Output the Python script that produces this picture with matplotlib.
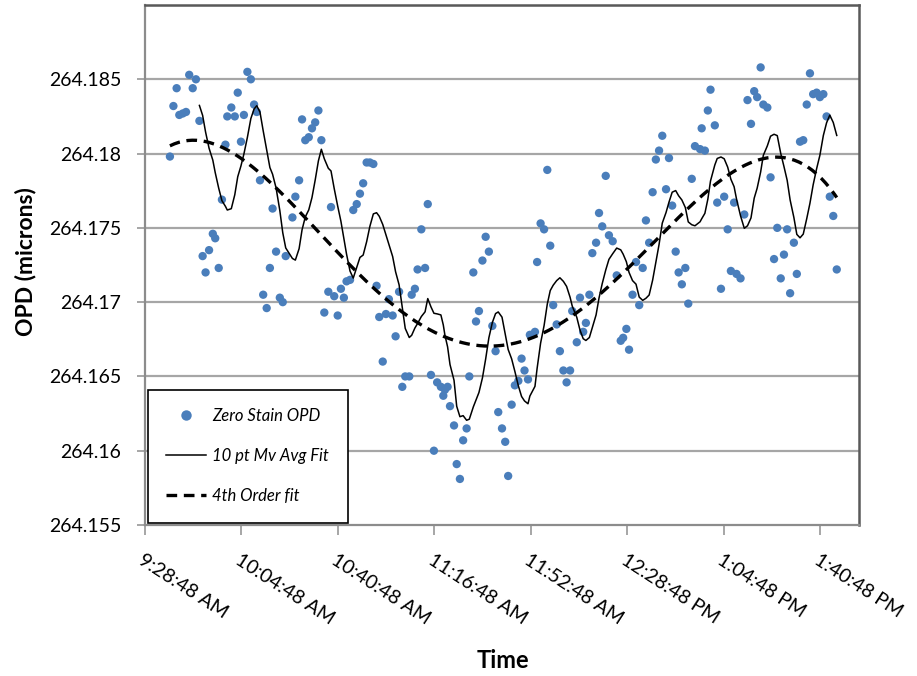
import numpy as np
import pandas as pd
import matplotlib
matplotlib.use("Agg")
import matplotlib.pyplot as plt
from matplotlib.lines import Line2D

plt.rcParams['font.family'] = ['Lato', 'DejaVu Sans']

# Sample times, in minutes after the 9:28:48 AM start
minutes = [
    9.3, 10.6, 11.8, 12.8, 14.1, 15.3, 16.5, 17.8, 19.0, 20.3,
    21.5, 22.6, 23.9, 25.3, 26.2, 27.5, 28.7, 30.0, 30.7, 32.2,
    33.5, 34.6, 35.8, 36.9, 38.2, 39.5, 40.7, 41.7, 42.9, 44.1,
    45.4, 46.6, 47.6, 48.9, 50.3, 51.4, 52.5, 55.0, 56.1, 57.5,
    58.6, 59.8, 61.1, 62.3, 63.5, 64.7, 65.8, 66.9, 68.4, 69.4,
    70.6, 71.9, 73.1, 74.2, 75.2, 76.5, 77.7, 79.0, 80.2, 81.4,
    82.7, 83.9, 85.2, 86.4, 87.4, 88.7, 89.9, 91.0, 92.4, 93.5,
    94.8, 96.0, 97.1, 98.6, 99.5, 100.7, 101.7, 103.1, 104.5, 105.5,
    106.7, 107.8, 109.0, 110.4, 111.3, 111.9, 112.9, 113.8, 115.3, 116.3,
    117.5, 118.7, 120.0, 121.0, 122.5, 123.5, 124.6, 125.9, 127.1, 128.3,
    129.6, 130.8, 131.8, 133.2, 134.4, 135.5, 136.8, 138.0, 139.3, 140.5,
    141.6, 142.9, 143.6, 145.5, 146.3, 147.6, 148.9, 150.1, 151.2, 152.3,
    153.6, 154.8, 156.1, 157.3, 158.6, 159.4, 161.1, 162.3, 163.5, 164.5,
    165.8, 166.9, 168.3, 169.4, 170.6, 171.9, 173.1, 174.5, 176.0, 177.5,
    178.4, 179.6, 180.6, 181.9, 183.2, 184.4, 185.7, 186.9, 188.1, 189.4,
    190.6, 191.8, 193.0, 194.4, 195.5, 196.7, 198.0, 199.1, 200.3, 201.6,
    202.7, 204.0, 205.2, 207.1, 207.7, 208.9, 210.0, 211.0, 212.6, 213.5,
    214.9, 216.1, 217.4, 218.6, 219.8, 220.7, 222.2, 223.6, 224.8, 226.1,
    227.3, 228.4, 229.7, 230.7, 232.2, 233.4, 234.7, 235.9, 237.2, 238.4,
    239.6, 240.7, 242.1, 243.2, 244.4, 245.6, 246.9, 248.1, 249.3, 250.6,
    251.8, 253.1, 254.3, 255.5, 256.8, 258.1,
]

# Zero-strain optical path difference, microns
opd = [
    264.1798, 264.1832, 264.1844, 264.1826, 264.1827, 264.1828, 264.1853, 264.1844, 264.1850, 264.1822,
    264.1731, 264.1720, 264.1735, 264.1746, 264.1743, 264.1723, 264.1769, 264.1806, 264.1825, 264.1831,
    264.1825, 264.1841, 264.1808, 264.1826, 264.1855, 264.1850, 264.1833, 264.1828, 264.1782, 264.1705,
    264.1696, 264.1723, 264.1763, 264.1734, 264.1703, 264.1700, 264.1731, 264.1757, 264.1771, 264.1782,
    264.1823, 264.1809, 264.1811, 264.1817, 264.1821, 264.1829, 264.1809, 264.1693, 264.1707, 264.1764,
    264.1704, 264.1691, 264.1709, 264.1703, 264.1714, 264.1715, 264.1762, 264.1766, 264.1773, 264.1780,
    264.1794, 264.1794, 264.1793, 264.1711, 264.1690, 264.1660, 264.1692, 264.1702, 264.1691, 264.1677,
    264.1707, 264.1643, 264.1650, 264.1650, 264.1705, 264.1709, 264.1722, 264.1749, 264.1723, 264.1766,
    264.1651, 264.1600, 264.1646, 264.1643, 264.1637, 264.1641, 264.1643, 264.1630, 264.1617, 264.1591,
    264.1581, 264.1607, 264.1615, 264.1650, 264.1720, 264.1687, 264.1694, 264.1728, 264.1744, 264.1734,
    264.1684, 264.1667, 264.1626, 264.1615, 264.1606, 264.1583, 264.1631, 264.1644, 264.1647, 264.1662,
    264.1654, 264.1648, 264.1678, 264.1680, 264.1727, 264.1753, 264.1749, 264.1789, 264.1738, 264.1698,
    264.1685, 264.1667, 264.1654, 264.1646, 264.1654, 264.1694, 264.1673, 264.1703, 264.1680, 264.1686,
    264.1705, 264.1733, 264.1740, 264.1760, 264.1751, 264.1785, 264.1745, 264.1741, 264.1718, 264.1674,
    264.1676, 264.1682, 264.1668, 264.1705, 264.1727, 264.1698, 264.1723, 264.1755, 264.1740, 264.1774,
    264.1796, 264.1802, 264.1812, 264.1776, 264.1797, 264.1765, 264.1734, 264.1720, 264.1712, 264.1723,
    264.1699, 264.1783, 264.1805, 264.1803, 264.1817, 264.1802, 264.1829, 264.1843, 264.1819, 264.1767,
    264.1709, 264.1771, 264.1749, 264.1721, 264.1767, 264.1719, 264.1716, 264.1759, 264.1836, 264.1820,
    264.1842, 264.1838, 264.1858, 264.1833, 264.1831, 264.1784, 264.1729, 264.1750, 264.1716, 264.1732,
    264.1749, 264.1706, 264.1740, 264.1719, 264.1808, 264.1809, 264.1833, 264.1854, 264.1840, 264.1841,
    264.1838, 264.1840, 264.1825, 264.1771, 264.1758, 264.1722,
]

tick_minutes = [0, 36, 72, 108, 144, 180, 216, 252]
tick_labels = ["9:28:48 AM", "10:04:48 AM", "10:40:48 AM", "11:16:48 AM",
               "11:52:48 AM", "12:28:48 PM", "1:04:48 PM", "1:40:48 PM"]
y_ticks = [264.155, 264.16, 264.165, 264.17, 264.175, 264.18, 264.185]
y_labels = ["264.155", "264.16", "264.165", "264.17", "264.175", "264.18", "264.185"]

t = np.array(minutes)
v = np.array(opd)

# 10-point moving average, plotted at the last sample of each window
mv_avg = pd.Series(v).rolling(10).mean().to_numpy()

# 4th order polynomial fit over the sampled span
coef = np.polyfit(t - t.mean(), v - 264.17, 4)
t_fit = np.linspace(t.min(), t.max(), 300)
v_fit = np.polyval(coef, t_fit - t.mean()) + 264.17

W, H = 917, 676
fig = plt.figure(figsize=(W / 100, H / 100), dpi=100)
ax = fig.add_axes([145 / W, 1 - 525 / H, (859 - 145) / W, (525 - 5) / H])

grid_c = "#a6a6a6"
ax.set_ylim(264.155, 264.19)
ax.set_xlim(0, 266.4)
for gy in y_ticks[1:] + [264.19]:
    ax.axhline(gy, color=grid_c, lw=1.6, zorder=0)

ax.scatter(t, v, s=36, color="#4a7ebb", edgecolors="none", zorder=2,
           label="Zero Stain OPD")
ax.plot(t, mv_avg, color="black", lw=1.1, zorder=3, label="10 pt Mv Avg Fit")
ax.plot(t_fit, v_fit, color="black", lw=2.4, linestyle=(0, (3.2, 2.0)),
        zorder=3, label="4th Order fit")

ax.set_yticks(y_ticks)
ax.set_yticklabels(y_labels, fontsize=14)
ax.set_xticks(tick_minutes)
ax.set_xticklabels(tick_labels, fontsize=14, rotation=-33,
                   ha="left", va="top", rotation_mode="anchor")
ax.tick_params(axis="y", length=6, color=grid_c, width=1.4, pad=11)
ax.tick_params(axis="x", length=7, color=grid_c, width=1.4, pad=12)

for side in ["left", "bottom"]:
    ax.spines[side].set_color("#8c8c8c")
    ax.spines[side].set_linewidth(1.6)
for side in ["top", "right"]:
    ax.spines[side].set_color("#595959")
    ax.spines[side].set_linewidth(1.8)

fig.text(26 / W, 1 - 262 / H, "OPD (microns)", rotation=90, fontsize=16.5,
         fontweight="bold", ha="center", va="center")
fig.text(503 / W, 1 - 661 / H, "Time", fontsize=17, fontweight="bold",
         ha="center", va="center")

handles = [
    Line2D([], [], marker="o", linestyle="none", markersize=7.5,
           markerfacecolor="#4a7ebb", markeredgecolor="none"),
    Line2D([], [], color="black", lw=1.1),
    Line2D([], [], color="black", lw=2.4, linestyle=(0, (3.2, 2.0))),
]
leg = ax.legend(handles, ["Zero Stain OPD", "10 pt Mv Avg Fit", "4th Order fit"],
                loc="lower left", bbox_to_anchor=(0.0, 0.0),
                prop={"style": "italic", "size": 12},
                frameon=True, fancybox=False, framealpha=1,
                edgecolor="black", borderpad=1.1, labelspacing=1.45,
                handlelength=2.4, handletextpad=0.4, borderaxespad=0.15)
leg.get_frame().set_linewidth(1.2)
leg.set_zorder(5)

fig.savefig("out.png", dpi=100)
